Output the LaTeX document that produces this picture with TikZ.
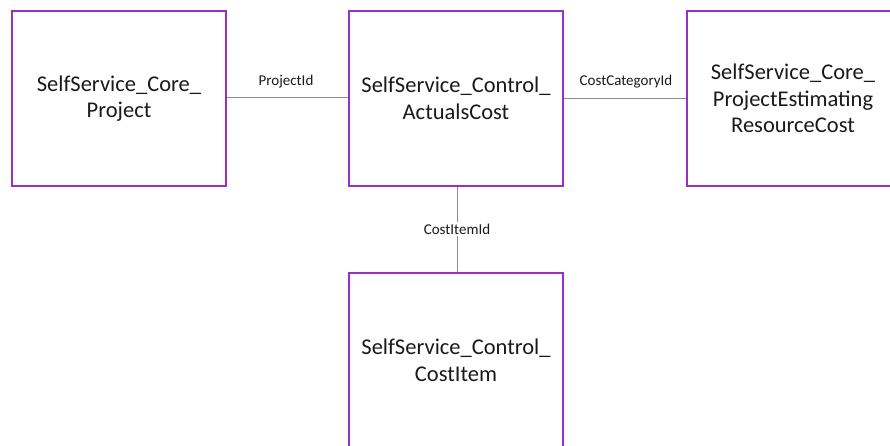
\documentclass[tikz,border=0pt]{standalone}
\usepackage{fontspec}
\setmainfont{Carlito}
\definecolor{boxpurple}{HTML}{9A2FC8}
\definecolor{linegray}{HTML}{8C8C8C}
\definecolor{txt}{HTML}{1A1A1A}
\tikzset{
  entity/.style={draw=boxpurple, line width=1.8pt, fill=white, rectangle,
    minimum width=214pt, minimum height=175pt, align=center, text=txt,
    font=\fontsize{22.5}{26.5}\selectfont, inner sep=0pt},
  rel/.style={draw=linegray, line width=0.9pt},
  rellabel/.style={font=\fontsize{15}{17}\selectfont, text=txt, inner sep=2pt}
}
\begin{document}
\begin{tikzpicture}[x=1pt,y=-1pt]
\useasboundingbox (0,0) rectangle (890,445);
\clip (0,0) rectangle (890,445);
\node[entity] (proj) at (119,98.5) {SelfService\_Core\_\\Project};
\node[entity] (act) at (456,98.5) {SelfService\_Control\_\\ActualsCost};
\node[entity, minimum width=212pt] (res) at (793,98.5) {SelfService\_Core\_\\ProjectEstimating\\ResourceCost};
\node[entity] (item) at (456,360.5) {SelfService\_Control\_\\CostItem};
\draw[rel] (proj.east |- 0,97) -- (act.west |- 0,97);
\node[rellabel] (l1) at (286,82) {ProjectId};
\draw[rel] (act.east |- 0,98) -- (res.west |- 0,98);
\node[rellabel] (l2) at (626,82) {CostCategoryId};
\node[rellabel, fill=white] (l3) at (457,229) {CostItemId};
\draw[rel] (act.south -| 457,0) -- (l3.north);
\draw[rel] (l3.south) -- (item.north -| 457,0);
\end{tikzpicture}
\end{document}
